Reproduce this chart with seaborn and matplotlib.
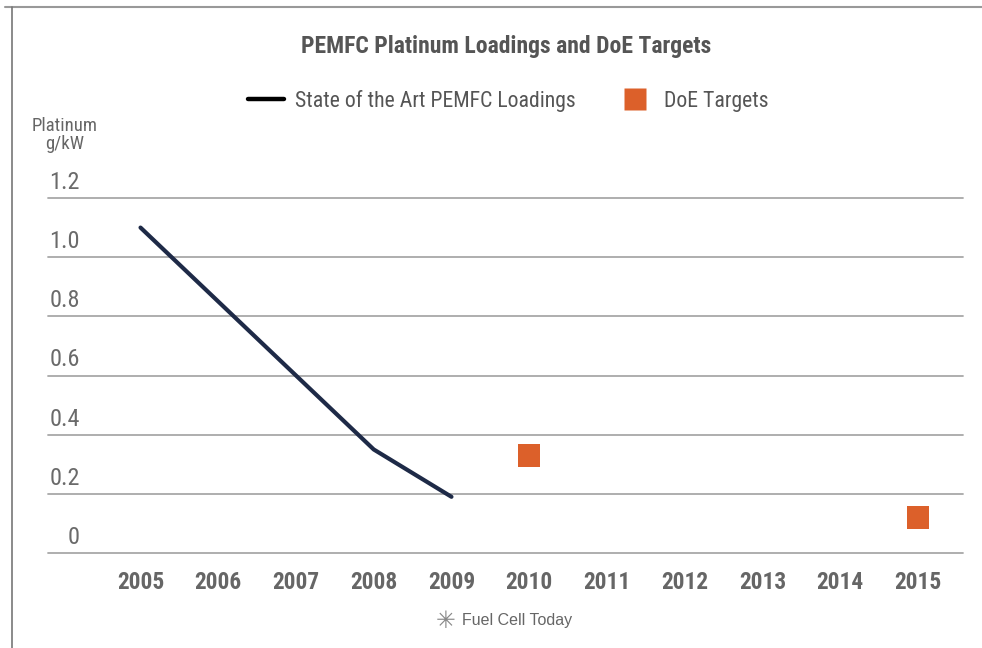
import matplotlib
matplotlib.use("Agg")
import matplotlib.pyplot as plt
from matplotlib import font_manager
from matplotlib.lines import Line2D
import seaborn as sns
import pandas as pd

# ---- data ----
years = [2005, 2006, 2007, 2008, 2009]
loadings = [1.10, 0.85, 0.60, 0.35, 0.19]
target_years = [2010, 2015]
targets = [0.33, 0.12]
xtick_years = list(range(2005, 2016))
ytick_vals = [0, 0.2, 0.4, 0.6, 0.8, 1.0, 1.2]
ytick_labels = ["0", "0.2", "0.4", "0.6", "0.8", "1.0", "1.2"]

title = "PEMFC Platinum Loadings and DoE Targets"
line_label = "State of the Art PEMFC Loadings"
target_label = "DoE Targets"

available = {f.name for f in font_manager.fontManager.ttflist}

sns.set_theme(style="white")
NARROW = [f for f in ["Liberation Sans Narrow", "DejaVu Sans Condensed",
                      "Roboto Condensed", "Roboto"] if f in available] + ["DejaVu Sans"]
plt.rcParams["font.family"] = NARROW

W, H = 982, 648
fig = plt.figure(figsize=(W / 100, H / 100), dpi=100)
fig.patch.set_facecolor("white")

left, right, bottom, top = 48, 963, 553, 198
ax = fig.add_axes([left / W, 1 - bottom / H, (right - left) / W, (bottom - top) / H])
ax.set_facecolor("white")

df_line = pd.DataFrame({"year": years, "value": loadings})
df_tgt = pd.DataFrame({"year": target_years, "value": targets})

sns.lineplot(data=df_line, x="year", y="value", ax=ax, color="#1e2a47",
             linewidth=3.0, label=line_label, clip_on=False, zorder=5)
sns.scatterplot(data=df_tgt, x="year", y="value", ax=ax, color="#dc602a",
                marker="s", s=260, edgecolor="none", label=target_label,
                clip_on=False, zorder=5)

ax.set_xlim(2003.81, 2015.58)
ax.set_ylim(0, 1.2)
ax.set_yticks(ytick_vals)
ax.set_yticklabels([])
ax.yaxis.grid(True, color="#a8a8a8", linewidth=1.3)
for gl in ax.get_ygridlines():
    gl.set_clip_on(False)
ax.xaxis.grid(False)
ax.tick_params(axis="both", length=0)
ax.set_xticks(xtick_years)
ax.set_xticklabels([str(y) for y in xtick_years], fontsize=16.8, fontweight="bold",
                   color="#666666")
ax.tick_params(axis="x", pad=13)
for s in ax.spines.values():
    s.set_visible(False)
ax.set_xlabel("")
ax.set_ylabel("")

# y value labels sitting above the gridlines
ytrans = ax.get_yaxis_transform()
for v, lab in zip(ytick_vals, ytick_labels):
    ax.text(0.035, v + 0.014, lab, transform=ytrans, ha="right", va="bottom",
            fontsize=17.5, color="#6a6a6a")

# axis unit label
fig.text(65 / W, 1 - 135 / H, "Platinum\ng/kW", ha="center", va="center",
         fontsize=13.5, color="#666666", linespacing=1.05)

# title
fig.text(506 / W, 1 - 46 / H, title, ha="center", va="center", fontsize=17,
         fontweight="bold", color="#555555")

# legend
handles = [Line2D([0], [0], color="black", linewidth=3.2),
           Line2D([0], [0], marker="s", color="none", markerfacecolor="#dc602a",
                  markeredgecolor="none", markersize=16)]
leg = ax.legend(handles, [line_label, target_label], loc="center",
                bbox_to_anchor=(508 / W, 1 - 101 / H), bbox_transform=fig.transFigure,
                ncol=2, frameon=False, fontsize=15.7, handlelength=1.65,
                handletextpad=0.5, columnspacing=1.9)
for t in leg.get_texts():
    t.set_color("#555555")

# footer
fig.text(446 / W, 1 - 621 / H, "\u2733", ha="center", va="center", fontsize=17,
         color="#888888", family=["DejaVu Sans"])
fig.text(462 / W, 1 - 621 / H, "Fuel Cell Today", ha="left", va="center",
         fontsize=11.5, color="#666666", family=["Liberation Sans", "DejaVu Sans"])

# frame lines
fig.add_artist(Line2D([5 / W, 1.0], [1 - 7 / H, 1 - 7 / H], transform=fig.transFigure,
                      color="#999999", linewidth=1.5))
fig.add_artist(Line2D([12 / W, 12 / W], [0, 1 - 7 / H], transform=fig.transFigure,
                      color="#777777", linewidth=1.2))

fig.savefig("out.png", dpi=100, facecolor="white")
